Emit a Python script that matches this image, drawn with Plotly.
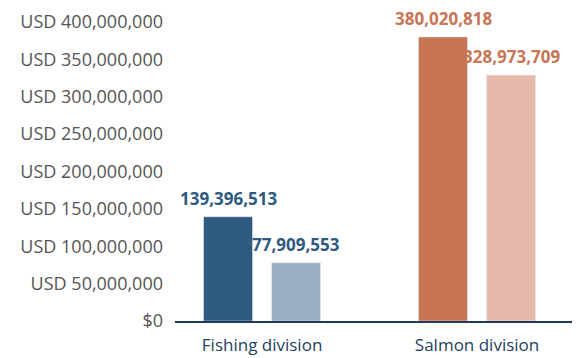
import plotly.graph_objects as go

categories = ["Fishing division", "Salmon division"]
series_a = [139396513, 380020818]
series_b = [77909553, 328973709]
colors_a = ["#2e5a80", "#c77555"]
colors_b = ["#98afc3", "#e6b8a9"]
label_colors = ["#2e5a80", "#c77555"]
tick_vals = [0, 50e6, 100e6, 150e6, 200e6, 250e6, 300e6, 350e6, 400e6]
tick_text = ["$0", "USD 50,000,000", "USD 100,000,000", "USD 150,000,000",
             "USD 200,000,000", "USD 250,000,000", "USD 300,000,000",
             "USD 350,000,000", "USD 400,000,000"]

fig = go.Figure()
fig.add_trace(go.Bar(x=categories, y=series_a, marker_color=colors_a, name="A",
                     offsetgroup="a"))
fig.add_trace(go.Bar(x=categories, y=series_b, marker_color=colors_b, name="B",
                     offsetgroup="b"))

bargap = 0.367
slot = (1 - bargap) / 2
annotations = []
for i, cat in enumerate(categories):
    for j, vals in enumerate([series_a, series_b]):
        annotations.append(dict(
            x=i + (j - 0.5) * slot, y=vals[i], xref="x", yref="y",
            text=f"<b>{vals[i]:,}</b>", showarrow=False, yanchor="bottom",
            yshift=5, font=dict(family="Open Sans", size=17, color=label_colors[i]),
        ))

# page body has an 8px margin: compensate so the plot lands where the reference has it
fig.update_layout(
    width=580, height=358,
    margin=dict(l=167, r=8, t=14, b=45, autoexpand=False),
    paper_bgcolor="white", plot_bgcolor="white",
    barmode="group", bargap=bargap, bargroupgap=0.28,
    showlegend=False,
    annotations=annotations,
    font=dict(family="Open Sans"),
)
fig.update_xaxes(
    type="category", range=[-0.405, 1.479], automargin=False,
    showline=True, linecolor="#1f3a5c", linewidth=2,
    showgrid=False, ticks="", ticklabelstandoff=8,
    tickfont=dict(family="Open Sans", size=17, color="#243f5e"),
)
fig.update_yaxes(
    range=[0, 400e6], tickvals=tick_vals, ticktext=tick_text, automargin=False,
    showgrid=False, zeroline=False, showline=False,
    ticks="", ticklabelstandoff=11,
    tickfont=dict(family="Open Sans", size=18, color="#555555"),
)

fig.write_html("out.html")
